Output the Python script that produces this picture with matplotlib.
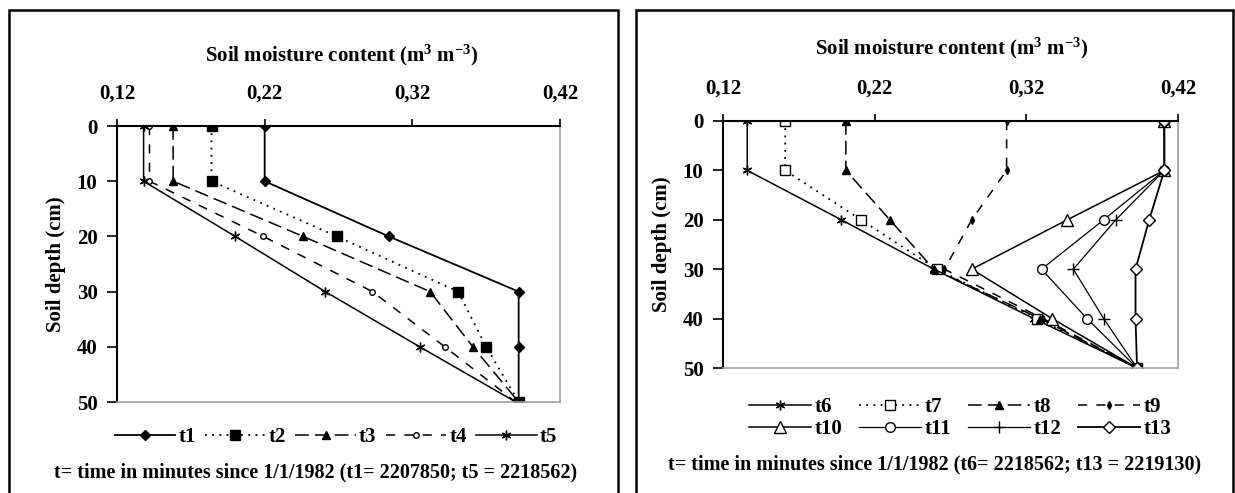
import numpy as np
import matplotlib
matplotlib.use("Agg")
import matplotlib.pyplot as plt
from matplotlib.patches import Rectangle

plt.rcParams['font.family'] = ['Liberation Serif', 'DejaVu Serif']
plt.rcParams['font.weight'] = 'bold'
plt.rcParams['mathtext.fontset'] = 'custom'
plt.rcParams['mathtext.rm'] = 'Liberation Serif:bold'
plt.rcParams['mathtext.default'] = 'rm'

# depth in cm
depth = [0, 10, 20, 30, 40, 50]

# left panel (t1 .. t5), soil moisture in m3/m3
t1 = [0.220, 0.220, 0.304, 0.392, 0.392, 0.392]
t2 = [0.184, 0.184, 0.269, 0.351, 0.370, 0.392]
t3 = [0.158, 0.158, 0.246, 0.332, 0.361, 0.392]
t4 = [0.142, 0.142, 0.219, 0.293, 0.342, 0.390]
t5 = [0.138, 0.138, 0.200, 0.261, 0.325, 0.390]

# right panel (t6 .. t13)
t6 = [0.136, 0.136, 0.198, 0.259, 0.325, 0.393]
t7 = [0.161, 0.161, 0.211, 0.261, 0.327, 0.393]
t8 = [0.201, 0.201, 0.230, 0.259, 0.329, 0.393]
t9 = [0.307, 0.307, 0.284, 0.266, 0.331, 0.393]
t10 = [0.411, 0.411, 0.347, 0.284, 0.337, 0.393]
t11 = [0.411, 0.411, 0.371, 0.330, 0.360, 0.393]
t12 = [0.411, 0.411, 0.379, 0.351, 0.371, 0.393]
t13 = [0.411, 0.411, 0.401, 0.392, 0.392, 0.393]

xticks = [0.12, 0.22, 0.32, 0.42]
xticklabels = ['0,12', '0,22', '0,32', '0,42']
yticks = [0, 10, 20, 30, 40, 50]

star = (6, 2, 0)
dotted = (0, (1, 3))
longdash = (0, (9, 4))
dash = (0, (6, 6))

left_series = [
    ('t1', t1, dict(ls='-', marker='D', ms=5.5, mfc='k', lw=1.3)),
    ('t2', t2, dict(ls=dotted, marker='s', ms=7.5, mfc='k', lw=1.3)),
    ('t3', t3, dict(ls=longdash, marker='^', ms=6, mfc='k', lw=1.1)),
    ('t4', t4, dict(ls=dash, marker='o', ms=4, mfc='white', lw=1.1)),
    ('t5', t5, dict(ls='-', marker=star, ms=7, mfc='k', lw=1.1)),
]
right_series = [
    ('t6', t6, dict(ls='-', marker=star, ms=7, mfc='k', lw=1.1)),
    ('t7', t7, dict(ls=dotted, marker='s', ms=7, mfc='white', lw=1.3)),
    ('t8', t8, dict(ls=longdash, marker='^', ms=6, mfc='k', lw=1.1)),
    ('t9', t9, dict(ls=dash, marker='d', ms=4, mfc='k', lw=1.1)),
    ('t10', t10, dict(ls='-', marker='^', ms=8, mfc='white', lw=1.1)),
    ('t11', t11, dict(ls='-', marker='o', ms=7, mfc='white', lw=0.9)),
    ('t12', t12, dict(ls='-', marker='+', ms=8, mfc='k', lw=0.9)),
    ('t13', t13, dict(ls='-', marker='D', ms=6, mfc='white', lw=1.3)),
]

W, H = 1235, 493
fig = plt.figure(figsize=(W / 100, H / 100), dpi=100)


def fx(px):
    return px / W


def fy(py):
    return 1 - py / H


def setup_axis(ax):
    ax.set_xlim(0.12, 0.42)
    ax.set_ylim(50, 0)
    ax.xaxis.tick_top()
    ax.set_xticks(xticks)
    ax.set_xticklabels(xticklabels)
    ax.set_yticks(yticks)
    ax.tick_params(axis='x', direction='out', length=5, width=1.2, pad=11, labelsize=15)
    ax.tick_params(axis='y', direction='out', length=7, width=1.2, pad=7, labelsize=15)
    for lab in ax.get_xticklabels() + ax.get_yticklabels():
        lab.set_fontweight('bold')
    ax.spines['top'].set_linewidth(1.5)
    ax.spines['left'].set_linewidth(1.5)
    ax.spines['right'].set_color('#a0a0a0')
    ax.spines['bottom'].set_color('#a0a0a0')
    ax.spines['right'].set_linewidth(1.2)
    ax.spines['bottom'].set_linewidth(1.2)


# panel frames
fig.patches.append(Rectangle((fx(9), fy(520)), fx(618) - fx(9), fy(10) - fy(520),
                             transform=fig.transFigure, fill=False, ec='k', lw=1.8))
fig.patches.append(Rectangle((fx(636), fy(520)), fx(1233) - fx(636), fy(10) - fy(520),
                             transform=fig.transFigure, fill=False, ec='k', lw=1.8))

# left panel
ax1 = fig.add_axes([fx(117), fy(402), fx(560) - fx(117), fy(126) - fy(402)])
setup_axis(ax1)
h1 = []
for name, vals, st in left_series:
    line, = ax1.plot(vals, depth, color='k', mec='k', label=name, **st)
    h1.append(line)
ax1.set_ylabel('Soil depth (cm)', fontsize=15, fontweight='bold', labelpad=8)
fig.text(fx(342), fy(55), r'Soil moisture content (m$^{3}$ m$^{-3}$)', ha='center', va='center',
         fontsize=15, fontweight='bold')
fig.legend(handles=h1, loc='center', bbox_to_anchor=(fx(336), fy(437)), ncol=5, frameon=False,
           handlelength=2.9, handletextpad=0.15, columnspacing=0.45,
           prop={'weight': 'bold', 'size': 15})
fig.text(fx(316), fy(472), 't= time in minutes since 1/1/1982 (t1= 2207850; t5 = 2218562)',
         ha='center', va='center', fontsize=14.5, fontweight='bold')

# right panel
ax2 = fig.add_axes([fx(723), fy(368), fx(1178) - fx(723), fy(121) - fy(368)])
setup_axis(ax2)
h2 = []
for name, vals, st in right_series:
    line, = ax2.plot(vals, depth, color='k', mec='k', label=name, **st)
    h2.append(line)
ax2.set_ylabel('Soil depth (cm)', fontsize=15, fontweight='bold', labelpad=8)
fig.text(fx(952), fy(48), r'Soil moisture content (m$^{3}$ m$^{-3}$)', ha='center', va='center',
         fontsize=15, fontweight='bold')
order = [0, 4, 1, 5, 2, 6, 3, 7]
fig.legend(handles=[h2[i] for i in order], loc='center', bbox_to_anchor=(fx(960), fy(418)), ncol=4,
           frameon=False, handlelength=3.0, handletextpad=0.15, columnspacing=0.8,
           labelspacing=0.1, prop={'weight': 'bold', 'size': 15})
fig.text(fx(935), fy(464), 't= time in minutes since 1/1/1982 (t6= 2218562; t13 = 2219130)',
         ha='center', va='center', fontsize=14.5, fontweight='bold')

fig.savefig('out.png', dpi=100)
